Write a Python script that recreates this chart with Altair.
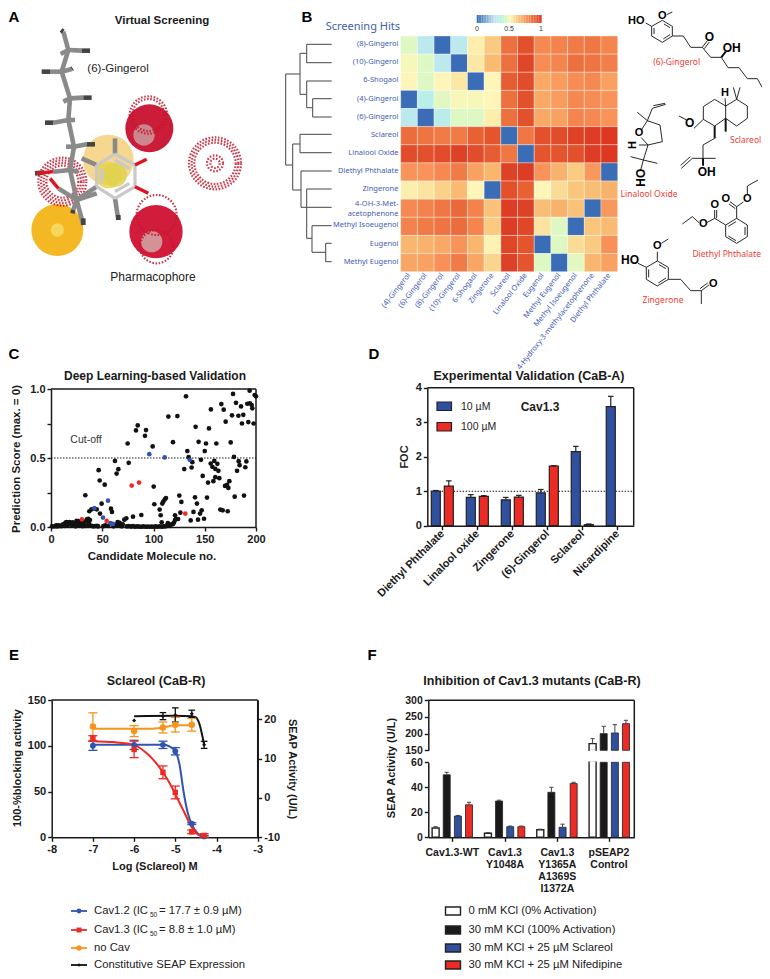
import altair as alt
import pandas as pd

W, H = 754, 963
INK = "#1a1a1a"
BLUE = "#2f4f9f"
RED = "#ee2a24"
ORANGE = "#f7941d"
LBL = "#3f5cb0"
FONT = "Liberation Sans"
MOL_X = 264

# ---------- Panel B data ----------
rows = ["(8)", "(10)", "6S", "(4)", "(6)", "Scl", "Lin", "Die", "Zin", "4OH", "MIs", "Eug", "MEu"]
cols = ["(4)-Gingerol", "(6)-Gingerol", "(8)-Gingerol", "(10)-Gingerol", "6-Shogaol", "Zingerone", "Sclareol",
        "Linalool Oxide", "Eugenol", "Methyl Eugenol", "Methyl Isoeugenol", "4-Hydroxy-3-methylacetophenone", "Diethyl Phthalate"]
matrix = [
    [.45, .30, 0, .30, .52, .62, .85, .93, .78, .80, .82, .83, .79],
    [.49, .45, .30, 0, .54, .66, .85, .95, .77, .79, .85, .84, .81],
    [.50, .45, .50, .54, 0, .50, .90, .94, .70, .73, .77, .78, .72],
    [0, .33, .46, .49, .49, .50, .85, .93, .70, .73, .78, .77, .75],
    [.30, 0, .32, .45, .45, .52, .85, .93, .70, .72, .79, .78, .75],
    [.86, .84, .82, .82, .89, .92, 0, .83, .93, .94, .96, .97, .98],
    [.94, .93, .94, .96, .94, .90, .83, 0, .92, .92, .93, .97, .98],
    [.75, .75, .78, .82, .72, .67, .96, .97, .75, .68, .62, .74, 0],
    [.52, .55, .60, .66, .50, 0, .93, .89, .50, .57, .63, .65, .68],
    [.78, .80, .83, .87, .80, .64, .97, .96, .65, .68, .64, 0, .74],
    [.80, .82, .84, .86, .79, .62, .97, .95, .55, .45, 0, .63, .66],
    [.67, .68, .70, .75, .67, .51, .95, .92, 0, .45, .57, .62, .76],
    [.71, .72, .76, .82, .71, .59, .96, .92, .45, 0, .46, .67, .72],
]
row_labels = [("(8)-Gingerol", 133), ("(10)-Gingerol", 187), ("6-Shogaol", 241), ("(4)-Gingerol", 296),
              ("(6)-Gingerol", 350), ("Sclareol", 405), ("Linalool Oxide", 459), ("Diethyl Phthalate", 513),
              ("Zingerone", 567), ("4-OH-3-Met-", 613), ("acetophenone", 642), ("Methyl Isoeugenol", 676),
              ("Eugenol", 731), ("Methyl Eugenol", 785)]
dendro = [
    (110, 133, 185, 133), (110, 188, 185, 188), (110, 133, 110, 188), (90, 160, 110, 160),
    (110, 243, 185, 243), (128, 296, 185, 296), (128, 351, 185, 351), (128, 296, 128, 351),
    (110, 323, 128, 323), (110, 243, 110, 323), (90, 283, 110, 283), (90, 160, 90, 283),
    (47, 222, 90, 222), (90, 403, 185, 403), (90, 458, 185, 458), (90, 403, 90, 458),
    (68, 432, 90, 432), (93, 513, 185, 513), (110, 567, 185, 567), (93, 622, 185, 622),
    (126, 677, 185, 677), (167, 730, 185, 730), (167, 785, 185, 785), (167, 730, 167, 785),
    (126, 757, 167, 757), (126, 677, 126, 757), (110, 715, 126, 715), (110, 567, 110, 715),
    (93, 513, 93, 622), (68, 570, 93, 570), (68, 432, 68, 570), (47, 495, 68, 495), (47, 222, 47, 495),
]
bonds = [
    # (6)-gingerol
    (1195, 61, 1225, 79), (1225, 79, 1225, 108), (1225, 108, 1195, 127), (1195, 127, 1163, 108), (1163, 108, 1163, 79),
    (1163, 79, 1195, 61), (1200, 72, 1218, 83), (1218, 104, 1198, 117), (1170, 102, 1170, 84),
    (1145, 69, 1163, 79), (1208, 44, 1225, 36), (1225, 108, 1258, 108), (1258, 108, 1280, 142),
    (1280, 142, 1315, 142), (1315, 142, 1340, 172), (1340, 172, 1372, 172), (1372, 172, 1392, 203), (1392, 203, 1425, 203),
    (1425, 203, 1450, 236), (1450, 236, 1480, 236), (1480, 236, 1498, 268), (1315, 142, 1330, 122), (1321, 146, 1336, 126),
    # sclareol
    (1318, 320, 1352, 298), (1352, 298, 1385, 318), (1385, 318, 1385, 355), (1385, 355, 1352, 378), (1352, 378, 1318, 358),
    (1318, 358, 1318, 320), (1385, 318, 1418, 298), (1418, 298, 1450, 318), (1450, 318, 1450, 355), (1450, 355, 1418, 378),
    (1418, 378, 1385, 355), (1385, 318, 1383, 295), (1418, 298, 1408, 262), (1418, 298, 1428, 262), (1245, 348, 1268, 360),
    (1318, 358, 1290, 385), (1352, 415, 1317, 435), (1317, 435, 1317, 475), (1317, 475, 1285, 475), (1285, 475, 1252, 505),
    (1279, 470, 1250, 496), (1317, 475, 1355, 475),
    # linalool oxide
    (1132, 390, 1150, 362), (1150, 362, 1188, 375), (1188, 375, 1195, 425), (1195, 425, 1152, 435), (1152, 435, 1132, 413),
    (1150, 362, 1165, 325), (1165, 325, 1205, 313), (1168, 317, 1203, 310), (1150, 362, 1120, 337), (1125, 435, 1152, 435),
    (1152, 435, 1138, 480), (1138, 480, 1180, 490), (1138, 480, 1100, 470), (1138, 480, 1130, 510),
    # diethyl phthalate
    (1418, 655, 1450, 675), (1450, 675, 1450, 710), (1450, 710, 1418, 730), (1418, 730, 1385, 710), (1385, 710, 1385, 675),
    (1385, 675, 1418, 655), (1443, 681, 1443, 705), (1416, 722, 1393, 708), (1393, 679, 1416, 665), (1418, 655, 1418, 620),
    (1418, 620, 1398, 605), (1414, 626, 1395, 612), (1418, 620, 1438, 606), (1450, 582, 1450, 558), (1450, 558, 1482, 540),
    (1385, 675, 1352, 655), (1352, 655, 1352, 630), (1358, 655, 1358, 630), (1352, 655, 1328, 668), (1305, 668, 1285, 650), (1285, 650, 1255, 672),
    # zingerone
    (1180, 783, 1213, 802), (1213, 802, 1213, 838), (1213, 838, 1180, 858), (1180, 858, 1147, 838), (1147, 838, 1147, 802),
    (1147, 802, 1180, 783), (1185, 794, 1206, 806), (1206, 834, 1183, 849), (1154, 832, 1154, 808), (1122, 790, 1147, 802),
    (1180, 783, 1180, 755), (1192, 730, 1213, 717), (1213, 838, 1250, 838), (1250, 838, 1280, 872), (1280, 872, 1312, 872),
    (1312, 872, 1335, 855), (1308, 866, 1331, 849), (1312, 872, 1312, 912),
]
wedges = [(1372, 172, 1385, 155), (1385, 355, 1385, 395), (1352, 378, 1352, 415), (1317, 475, 1317, 497)]
atoms = [("HO", 1117, 63, 11), ("O", 1195, 48, 11), ("O", 1336, 110, 12), ("OH", 1403, 143, 12), ("H", 1383, 280, 11),
         ("O", 1277, 368, 12), ("OH", 1328, 515, 12), ("O", 1125, 400, 11), ("O", 1385, 598, 11), ("O", 1450, 598, 11),
         ("O", 1352, 615, 11), ("O", 1318, 672, 11), ("HO", 1098, 780, 12), ("O", 1180, 738, 11), ("O", 1348, 853, 11)]
atoms_rot = [("H", 1108, 435, 11), ("HO", 1130, 533, 12)]
names_red = [("(6)-Gingerol", 1238, 186), ("Sclareol", 1445, 420), ("Linalool Oxide", 1155, 582),
             ("Diethyl Phthalate", 1388, 762), ("Zingerone", 1197, 900)]

# ---------- Panel A data (structure seen in the picture, 3x crop units) ----------
sticks = [(190, 95, 205, 150), (205, 150, 185, 215), (185, 215, 210, 295), (210, 295, 205, 360), (205, 360, 222, 440),
          (222, 440, 210, 510), (210, 510, 230, 600), (230, 600, 220, 630), (230, 600, 250, 675), (205, 150, 245, 152),
          (205, 150, 182, 162), (185, 215, 150, 215), (185, 215, 215, 207), (210, 295, 250, 293), (210, 295, 190, 305),
          (205, 360, 160, 368), (205, 360, 225, 360), (222, 440, 260, 433), (222, 440, 198, 440), (210, 510, 160, 515),
          (210, 510, 235, 515), (230, 600, 290, 580), (175, 565, 230, 600), (345, 462, 345, 415), (345, 595, 355, 660),
          (290, 495, 245, 475), (290, 560, 230, 600)]
tips = [(245, 152, 270, 152), (150, 215, 125, 215), (250, 293, 275, 293), (160, 368, 135, 368), (260, 433, 285, 433),
        (190, 95, 183, 90), (215, 207, 218, 205), (220, 630, 217, 640), (250, 655, 250, 675), (130, 518, 105, 520), (355, 645, 355, 660)]
red_tips = [(160, 515, 110, 520), (405, 495, 440, 478), (405, 560, 445, 580), (150, 535, 175, 565)]
ring = [(345, 462, 405, 495), (405, 495, 405, 560), (405, 560, 345, 595), (345, 595, 290, 560), (290, 560, 290, 495),
        (290, 495, 345, 462), (345, 480, 388, 505), (388, 550, 345, 575), (305, 550, 305, 505)]
solid_balls = [(325, 480, 76, "#f6d58a"), (172, 690, 78, "#f2b417"), (448, 385, 72, "#c8102e"), (468, 695, 80, "#d01030")]
pale_balls = [(325, 525, 40, "#e8d24a"), (172, 690, 20, "#f7dd6a"), (432, 405, 32, "#c9a3a3"), (455, 725, 32, "#d3b0b0"), (345, 525, 36, "#dfd24d")]
mesh_balls = [(645, 490, 78), (645, 490, 70), (645, 490, 62), (645, 490, 24), (645, 490, 14), (187, 545, 72), (187, 545, 64), (187, 545, 56), (187, 545, 48),
              (445, 345, 56), (445, 345, 48), (470, 645, 60), (470, 740, 50)]

# ---------- Panel C data ----------
c_black_x = [131.7, 114.5, 123.3, 156, 177.6, 166.2, 168.5, 176.6, 180.5, 185.4, 182.8, 187.6, 186.3, 170.4, 191.5, 193.8, 194.1, 195.8, 196.4, 198.7, 200, 192.5, 197.7, 141.1, 154.1, 84.6, 82.9, 92.7, 91.7, 99.2, 74.8, 119, 144, 151.2, 161.3, 175.3, 150, 133, 134.3, 62.4, 75.8, 137.9, 130, 137.2, 146.3, 155.8, 157.4, 159.3, 162.3, 160.3, 163.3, 178.5, 183.1, 184, 181.5, 190.6, 189.6, 46.5, 64, 65.7, 47.5, 52.4, 148, 100.2, 153.2, 158.4, 160.3, 164.2, 169.8, 171.7, 173, 174, 179.2, 188.3, 33.5, 125.2, 127.2, 140.5, 142.4, 152.2, 100.8, 112.2, 111, 109.6, 108.6, 106, 107, 108, 165.2, 167.5, 172.4, 147, 139, 145.4, 149.3, 143.4, 136.3, 126.2, 121, 124, 88.1, 80, 73.5, 71.5, 58.5, 59.5, 49.4, 42.3, 37.4, 39.5, 44.6, 47.8, 36.4, 35,
             1, 3, 5, 6, 7, 8, 10, 11, 12, 13, 14, 15, 16, 17, 18, 19, 20, 21, 22, 23, 24, 25, 26, 27, 28, 29, 31, 32, 33, 34, 35, 36, 37, 38, 39, 41, 43, 45, 46, 51, 53, 56, 61, 63, 65, 66, 67, 69, 70, 74, 76, 78, 80, 82, 84, 86, 88, 90, 92, 94, 96, 98, 100, 102, 104, 106, 108, 110, 112, 113, 114, 115, 116, 117, 118, 119, 120, 121, 122]
c_black_y = [.947, .80, .804, .852, .964, .891, .85, .809, .90, .874, .806, .813, .75, .763, .893, .988, .896, .884, .86, .956, .947, .76, .75, .726, .714, .736, .70, .702, .661, .584, .605, .615, .617, .605, .605, .613, .55, .55, .506, .479, .465, .47, .42, .431, .487, .46, .436, .479, .458, .421, .407, .508, .477, .448, .407, .475, .433, .412, .387, .419, .337, .307, .37, .293, .322, .332, .361, .354, .298, .305, .283, .332, .22, .228, .23, .228, .182, .215, .17, .213, .165, .21, .2, .184, .17, .126, .085, .034, .126, .121, .114, .121, .109, .097, .06, .053, .048, .104, .085, .058, .087, .075, .063, .053, .133, .109, .169, .133, .114, .128, .128, .097, .06, .045,
             .005, .004, .012, .004, .012, .008, .006, .016, .02, .008, .03, .035, .01, .03, .036, .02, .012, .034, .014, .03, .005, .045, .02, .042, .01, .03, .006, .02, .04, .008, .055, .012, .03, .05, .01, .005, .006, .008, .004, .006, .012, .008, .005, .012, .035, .01, .03, .005, .02, .004, .006, .003, .006, .002, .004, .003, .002, .004, .002, .003, .002, .003, .002, .004, .002, .005, .002, .004, .005, .01, .028, .012, .008, .018, .02, .022, .032, .05, .06]
c_blue_x = [95.9, 110.9, 135.3, 55.6, 42.3, 50.7, 57.9, 60.5]
c_blue_y = [.528, .504, .487, .191, .136, .068, .029, .022]
c_red_x = [78.7, 85.9, 30.2, 54.3, 131]
c_red_y = [.30, .322, .056, .044, .097]

# ---------- Panel D data ----------
d_names = ["Diethyl Phthalate", "Linalool oxide", "Zingerone", "(6)-Gingerol", "Sclareol", "Nicardipine"]
d_10 = [1.0, .82, .75, .95, 2.15, 3.45]
d_10_top = [1.02, .90, .82, 1.05, 2.30, 3.75]
d_100 = [1.15, .85, .83, 1.73, .03, 0]
d_100_top = [1.30, .87, .88, 1.74, .05, 0]

# ---------- Panel E data ----------
e_dose = [-7, -6, -5.3, -5, -4.6, -4.3]
e_12 = [100, 101, 101, 94, 15, 1]
e_12_err = [5, 5, 4, 4, 1, 1]
e_13 = [108, 96, 71, 49, 6, 2]
e_13_err = [3, 9, 7, 7, 2, 2]
e_no_dose = [-7, -6, -5.3, -5, -4.6]
e_no = [121, 116, 120, 123, 123]
e_no_err = [15, 6, 6, 8, 7]
e_con_dose = [-6, -5.3, -5, -4.6, -4.3]
e_con = [19.7, 20.8, 21.1, 21.4, 13.5]
e_con_err = [0, .9, 1.8, .9, .9]
fit12_x = [-7, -6, -5.3, -5.15, -5, -4.9, -4.8, -4.7, -4.6, -4.45, -4.3]
fit12_y = [101, 101, 101, 99.5, 94, 80, 50, 27, 14, 4, 1]
fit13_x = [-7, -6.5, -6, -5.7, -5.5, -5.3, -5.1, -5, -4.8, -4.6, -4.45, -4.3]
fit13_y = [105, 104, 101, 92, 83, 71, 56, 47, 29, 11, 3, 1]
fitno_x = [-7, -6, -5.6, -5.3, -5, -4.6]
fitno_y = [118.5, 118.5, 118.5, 120, 122.5, 122.5]
fitcon_x = [-6, -5, -4.6, -4.5, -4.42, -4.3]
fitcon_y = [20.8, 20.9, 20.8, 20.5, 19, 13.5]

# ---------- Panel F data ----------
f_groups = ["Cav1.3-WT", "Cav1.3\nY1048A", "Cav1.3\nY1365A\nA1369S\nI1372A", "pSEAP2\nControl"]
f_vals = [[7.5, 50, 17, 26], [3.2, 29, 8.5, 8.5], [6, 36, 8, 43], [170, 200, 202, 230]]
f_tops = [[8.5, 52, 17.5, 28], [3.7, 29.7, 9, 9], [6.5, 40, 10.5, 44], [185, 222, 227, 240]]
f_fill = ["white", "#1a1a1a", BLUE, RED]
f_legend = ["0  mM KCl  (0% Activation)", "30 mM KCl (100% Activation)", "30 mM KCl + 25 µM Sclareol", "30 mM KCl + 25 µM Nifedipine"]
e_legend_y = [911, 930, 948, 965]

# ---------- helpers ----------
PX = alt.Scale(domain=[8, 8 + W], range=[0, W], nice=False, zero=False)
PY = alt.Scale(domain=[8, 8 + H], range=[0, H], nice=False, zero=False)
layers = []


def qs(dom, a, b):
    return alt.Scale(domain=dom, range=[a - 8, b - 8], nice=False, zero=False)


def ax_left(x, **k):
    return alt.Axis(orient="left", offset=-(x - 8), title=None, grid=False, labelFlush=False, **k)


def ax_right(x, **k):
    return alt.Axis(orient="right", offset=(x - 8) - W, title=None, grid=False, labelFlush=False, **k)


def ax_bottom(y, **k):
    return alt.Axis(orient="bottom", offset=(y - 8) - H, title=None, grid=False, labelFlush=False, **k)


def segs(rows_, xs=PX, ys=PY, xaxis=None, yaxis=None, **mk):
    df = pd.DataFrame(rows_, columns=["x", "y", "x2", "y2"])
    layers.append(alt.Chart(df).mark_rule(**mk).encode(
        x=alt.X("x:Q", scale=xs, axis=xaxis), x2="x2:Q",
        y=alt.Y("y:Q", scale=ys, axis=yaxis), y2="y2:Q"))


def rects(rows_, xs=PX, ys=PY, **mk):
    df = pd.DataFrame(rows_, columns=["x", "y", "x2", "y2"])
    layers.append(alt.Chart(df).mark_rect(**mk).encode(
        x=alt.X("x:Q", scale=xs, axis=None), x2="x2:Q",
        y=alt.Y("y:Q", scale=ys, axis=None), y2="y2:Q"))


def label(t, x, y, size=11, bold=False, color=INK, angle=0, align="center", font=FONT, baseline="middle", **mk):
    df = pd.DataFrame({"t": [t], "x": [x], "y": [y]})
    layers.append(alt.Chart(df).mark_text(
        fontSize=size, fontWeight="bold" if bold else "normal", color=color, angle=angle, align=align,
        baseline=baseline, font=font, **mk).encode(
        x=alt.X("x:Q", scale=PX, axis=None), y=alt.Y("y:Q", scale=PY, axis=None), text="t:N"))


def pts(xv, yv, xs, ys, shape="circle", size=18, color=INK):
    df = pd.DataFrame({"x": xv, "y": yv})
    layers.append(alt.Chart(df).mark_point(shape=shape, size=size, filled=True, color=color, opacity=1).encode(
        x=alt.X("x:Q", scale=xs, axis=None), y=alt.Y("y:Q", scale=ys, axis=None)))


def curve(xv, yv, xs, ys, color, width=2, interp="monotone"):
    df = pd.DataFrame({"x": xv, "y": yv})
    layers.append(alt.Chart(df).mark_line(color=color, strokeWidth=width, interpolate=interp).encode(
        x=alt.X("x:Q", scale=xs, axis=None), y=alt.Y("y:Q", scale=ys, axis=None)))


def z(o, ox, oy):
    return (ox + o[0] / 3, oy + o[1] / 3, ox + o[2] / 3, oy + o[3] / 3)


def balls(items, filled=True, **mk):
    df = pd.DataFrame([{"x": i[0] / 3, "y": i[1] / 3, "s": (2 * i[2] / 3) ** 2, **({"c": i[3]} if filled else {})} for i in items])
    m = alt.Chart(df).mark_point(shape="circle", filled=filled, **mk)
    enc = dict(x=alt.X("x:Q", scale=PX, axis=None), y=alt.Y("y:Q", scale=PY, axis=None), size=alt.Size("s:Q", scale=None, legend=None))
    if filled:
        enc["color"] = alt.Color("c:N", scale=None, legend=None)
    layers.append(m.encode(**enc))


AX = dict(domainColor=INK, tickColor=INK, labelColor=INK, domainWidth=1.5, tickWidth=1.4, tickSize=4, labelFont=FONT,
          labelFontWeight="bold", labelFontSize=11, labelPadding=2)

# ---------- Panel letters ----------
for t, x, y in [("A", 14, 17), ("B", 307, 17), ("C", 14, 354), ("D", 374, 354), ("E", 14, 655), ("F", 372, 655)]:
    label(t, x, y, size=15, bold=True, color="#000")

# ---------- Panel A ----------
label("Virtual Screening", 162, 21, size=11.5, bold=True)
balls(solid_balls, opacity=0.95, strokeWidth=0)
balls(pale_balls, opacity=0.8, strokeWidth=0)
balls(mesh_balls, filled=False, color="#c4182d", strokeWidth=2.2, strokeDash=[1.6, 1.6], opacity=0.85)
segs([z(s, 0, 0) for s in sticks], color="#8a8a8a", strokeWidth=4.6)
segs([z(s, 0, 0) for s in tips], color="#444444", strokeWidth=4.6)
segs([z(s, 0, 0) for s in ring], color="#c9c9c9", strokeWidth=3.2)
segs([z(s, 0, 0) for s in red_tips], color="#e0141e", strokeWidth=3.4)
label("(6)-Gingerol", 118, 69, size=11.5, color="#222")
label("Pharmacophore", 153, 277, size=12, color="#222")

# ---------- Panel B ----------
cells = pd.DataFrame([{"r": r, "c": c, "v": matrix[i][j]} for i, r in enumerate(rows) for j, c in enumerate(cols)])
HEAT = alt.Scale(domain=[0, .25, .5, .75, 1], range=["#3a6db5", "#c5e0ee", "#fdf6b8", "#f9935a", "#d92c1f"])
layers.append(alt.Chart(cells).mark_rect(stroke="#ffffff", strokeWidth=0.5, strokeOpacity=0.7).encode(
    x=alt.X("c:N", sort=cols, scale=alt.Scale(domain=cols, range=[400.7 - 8, 617.7 - 8], paddingInner=0, paddingOuter=0),
            axis=ax_bottom(271.7, labelAngle=-52, labelAlign="right", labelBaseline="middle", ticks=False, domain=False,
                           labelColor=LBL, labelFont="Noto Sans", labelFontSize=7.5, labelPadding=2, labelOverlap=False, labelLimit=200)),
    y=alt.Y("r:N", sort=rows, scale=alt.Scale(domain=rows, range=[36 - 8, 271.7 - 8], paddingInner=0, paddingOuter=0), axis=None),
    color=alt.Color("v:Q", scale=HEAT, legend=None)))
bar_vals = [i / 40 for i in range(40)]
bar_df = pd.DataFrame({"a": bar_vals, "b": [v + 1 / 40 for v in bar_vals], "v": bar_vals})
layers.append(alt.Chart(bar_df).mark_rect().encode(
    x=alt.X("a:Q", scale=qs([0, 1], 476.7, 541.7), axis=None), x2="b:Q",
    y=alt.value(15 - 8), y2=alt.value(23 - 8), color=alt.Color("v:Q", scale=HEAT, legend=None)))
for t, x in [("0", 477), ("0.5", 509), ("1", 541)]:
    label(t, x, 29, size=7, color="#333")
label("Screening Hits", 400, 27, size=11, color=LBL, align="right", font="Noto Sans")
for t, y in row_labels:
    label(t, 398.5, y / 3, size=7.5, color=LBL, align="right", font="Noto Sans")
segs([z(s, 270, 0) for s in dendro], color="#555555", strokeWidth=1.1)
segs([z(s, MOL_X, 0) for s in bonds], color="#111111", strokeWidth=0.9)
segs([z(s, MOL_X, 0) for s in wedges], color="#111111", strokeWidth=2)
for t, x, y, s in atoms:
    label(t, MOL_X + x / 3, y / 3, size=s, color="#000", bold=True)
for t, x, y, s in atoms_rot:
    label(t, MOL_X + x / 3, y / 3, size=s, color="#000", bold=True, angle=270)
for t, x, y in names_red:
    label(t, MOL_X + x / 3, y / 3, size=8.5, color="#ee3b33", font="Noto Sans")

# ---------- Panel C ----------
cx = qs([0, 200], 51, 256)
cy = qs([0, 1], 527, 389)
label("Deep Learning-based Validation", 155, 376, size=12, bold=True)
label("Prediction Score (max. = 0)", 17, 459, size=11.5, bold=True, angle=270)
label("Candidate Molecule no.", 152, 557, size=11.5, bold=True)
label("Cut-off", 86, 440, size=10.5, color="#333")
segs([(51, 389, 256, 389), (256, 389, 256, 527)], color=INK, strokeWidth=1.5)
segs([(0, 0.5, 200, 0.5)], xs=cx, ys=cy,
     xaxis=ax_bottom(527, values=[0, 50, 100, 150, 200], **AX),
     yaxis=ax_left(51, values=[0, .25, .5, .75, 1], labelExpr="datum.value==0.25||datum.value==0.75?'':format(datum.value,'.1f')", **AX),
     color=INK, strokeWidth=1.1, strokeDash=[1.5, 1.5])
pts(c_black_x, c_black_y, cx, cy, size=22, color="#111111")
pts(c_blue_x, c_blue_y, cx, cy, size=22, color="#2f55b0")
pts(c_red_x, c_red_y, cx, cy, size=22, color="#ee2a24")

# ---------- Panel D ----------
dx = qs([-.429, 5.469], 427.3, 633.7)
dy = qs([0, 4], 525.7, 387.7)
label("Experimental Validation (CaB-A)", 529, 376, size=12.5, bold=True)
label("FOC", 405, 457, size=11, bold=True, angle=270)
label("Cav1.3", 540, 407, size=12, bold=True)
segs([(427.3, 387.7, 633.7, 387.7), (633.7, 387.7, 633.7, 525.7)], color=INK, strokeWidth=1.5)
segs([(-.02, 1, 5.469, 1)], xs=dx, ys=dy,
     xaxis=ax_bottom(525.7, values=list(range(6)), labelAngle=-45, labelAlign="right", labelBaseline="middle",
                     labelExpr="[" + ",".join(f"'{n}'" for n in d_names) + "][datum.value]", labelOverlap=False, labelLimit=200, **AX),
     yaxis=ax_left(427.3, values=[0, 1, 2, 3, 4], **AX),
     color=INK, strokeWidth=1.1, strokeDash=[1.5, 1.5])
OFF, HB = .186, .129
rects([(i - OFF - HB, 0, i - OFF + HB, v) for i, v in enumerate(d_10)], xs=dx, ys=dy, color=BLUE, stroke="#222222", strokeWidth=1.2)
rects([(i + OFF - HB, 0, i + OFF + HB, v) for i, v in enumerate(d_100) if v], xs=dx, ys=dy, color=RED, stroke="#222222", strokeWidth=1.2)
err = []
for i, (v, t) in enumerate(zip(d_10, d_10_top)):
    err += [(i - OFF, v, i - OFF, t), (i - OFF - .08, t, i - OFF + .08, t)]
for i, (v, t) in enumerate(zip(d_100, d_100_top)):
    if v:
        err += [(i + OFF, v, i + OFF, t), (i + OFF - .08, t, i + OFF + .08, t)]
segs(err, xs=dx, ys=dy, color="#222222", strokeWidth=1.2)
rects([(437, 402, 451.5, 410.5)], color=BLUE, stroke="#222222", strokeWidth=1.2)
rects([(437, 422.5, 451.5, 431)], color=RED, stroke="#222222", strokeWidth=1.2)
label("10  µM", 461, 407, size=10.5, align="left", color="#222")
label("100 µM", 461, 427, size=10.5, align="left", color="#222")

# ---------- Panel E ----------
ex = qs([-8, -3], 51.7, 257.7)
ey = qs([0, 150], 837.3, 700)
er = qs([-10, 24.9], 837.3, 700)
label("Sclareol (CaB-R)", 156, 681, size=12.5, bold=True)
label("100-%blocking activity", 18, 768, size=11, bold=True, angle=270)
label("SEAP Activity (U/L)", 292, 769, size=11, bold=True, angle=90)
label("Log (Sclareol) M", 155, 867, size=11, bold=True)
segs([(51.7, 700, 257.7, 700)], color=INK, strokeWidth=1.5)
curve(fitno_x, fitno_y, ex, ey, ORANGE)
curve(fitcon_x, fitcon_y, ex, er, "#111111")
curve(fit12_x, fit12_y, ex, ey, "#2f55b0")
curve(fit13_x, fit13_y, ex, ey, RED)


def errbars(xv, yv, ev, xs, ys, color, cap=.11):
    rows_ = []
    for a, b, c in zip(xv, yv, ev):
        if c:
            rows_ += [(a, b - c, a, b + c), (a - cap, b + c, a + cap, b + c), (a - cap, b - c, a + cap, b - c)]
    segs(rows_, xs=xs, ys=ys, color=color, strokeWidth=1.3)


errbars(e_no_dose, e_no, e_no_err, ex, ey, ORANGE)
errbars(e_dose, e_12, e_12_err, ex, ey, "#2f55b0")
errbars(e_dose, e_13, e_13_err, ex, ey, RED)
errbars(e_con_dose, e_con, e_con_err, ex, er, "#111111", cap=.08)
pts(e_no_dose, e_no, ex, ey, size=42, color=ORANGE)
pts(e_dose, e_12, ex, ey, size=34, color="#2f55b0")
pts(e_dose, e_13, ex, ey, shape="square", size=30, color=RED)
pts(e_con_dose, e_con, ex, er, shape="diamond", size=16, color="#111111")
segs([(-8, 0, -3, 0)], xs=ex, ys=ey,
     xaxis=ax_bottom(837.3, values=[-8, -7, -6, -5, -4, -3], labelExpr="''+datum.value", **AX),
     yaxis=ax_left(51.7, values=[0, 50, 100, 150], **AX), color=INK, strokeWidth=0.1)
segs([(-3, -10, -3, 24.9)], xs=ex, ys=er,
     yaxis=ax_right(257.7, values=[-10, 0, 10, 20], labelExpr="''+datum.value", **AX), color=INK, strokeWidth=1.5)
leg_colors = ["#2f55b0", RED, ORANGE, "#111111"]
leg_shape = ["circle", "square", "circle", "diamond"]
leg_size = [24, 24, 28, 12]
for c, y, sh, sz in zip(leg_colors, e_legend_y, leg_shape, leg_size):
    segs([(71, y, 87, y)], color=c, strokeWidth=1.8)
    pts([79], [y], PX, PY, shape=sh, size=sz, color=c)
for t, y, rest in [("Cav1.2 (IC", e_legend_y[0], " = 17.7 ± 0.9 µM)"), ("Cav1.3 (IC", e_legend_y[1], " = 8.8 ± 1.0 µM)")]:
    label(t, 94, y, size=11.3, align="left", color="#222")
    label("50", 150, y + 4, size=6.5, align="left", color="#222")
    label(rest, 159, y, size=11.3, align="left", color="#222")
label("no Cav", 94, e_legend_y[2], size=11.3, align="left", color="#222")
label("Constitutive SEAP Expression", 94, e_legend_y[3], size=11.3, align="left", color="#222")

# ---------- Panel F ----------
fx = qs([-.459, 3.478], 428.3, 634.3)
fl = qs([0, 60], 837.3, 762.3)
fu = qs([150, 300], 750.3, 700.3)
label("Inhibition of Cav1.3 mutants (CaB-R)", 532, 681, size=12.5, bold=True)
label("SEAP Activity (U/L)", 392, 768, size=11, bold=True, angle=270)
segs([(428.3, 700.3, 634.3, 700.3), (634.3, 700.3, 634.3, 837.3)], color=INK, strokeWidth=1.5)
F_OFF = [-.319, -.107, .107, .319]
F_HB = .067
AXF = dict(AX, labelFontSize=10.5)
for k in range(4):
    st = "#222222"
    low = [(i + F_OFF[k] - F_HB, 0, i + F_OFF[k] + F_HB, min(f_vals[i][k], 60)) for i in range(4)]
    rects(low, xs=fx, ys=fl, color=f_fill[k], stroke=st, strokeWidth=1.4 if k == 0 else 0.8)
    rects([(3 + F_OFF[k] - F_HB, 150, 3 + F_OFF[k] + F_HB, f_vals[3][k])], xs=fx, ys=fu, color=f_fill[k], stroke=st, strokeWidth=1.4 if k == 0 else 0.8)
# the broken bars are open where the axis is cut
a0 = 3 + F_OFF[0]
segs([(a0 - F_HB + .012, 60, a0 + F_HB - .012, 60)], xs=fx, ys=fl, color="#ffffff", strokeWidth=2)
segs([(a0 - F_HB + .012, 150, a0 + F_HB - .012, 150)], xs=fx, ys=fu, color="#ffffff", strokeWidth=2)
err_l, err_u = [], []
for i in range(3):
    for k in range(4):
        a = i + F_OFF[k]
        err_l += [(a, f_vals[i][k], a, f_tops[i][k]), (a - .04, f_tops[i][k], a + .04, f_tops[i][k])]
for k in range(4):
    a = 3 + F_OFF[k]
    err_u += [(a, f_vals[3][k], a, f_tops[3][k]), (a - .04, f_tops[3][k], a + .04, f_tops[3][k])]
segs(err_l, xs=fx, ys=fl, color="#444444", strokeWidth=1)
segs(err_u, xs=fx, ys=fu, color="#444444", strokeWidth=1)
segs([(-.459, 0, 3.478, 0)], xs=fx, ys=fl,
     xaxis=ax_bottom(837.3, values=[0, 1, 2, 3], labels=False, **AX),
     yaxis=ax_left(428.3, values=[0, 20, 40, 60], **AXF), color=INK, strokeWidth=0.1)
segs([(-.459, 150, -.459, 150)], xs=fx, ys=fu,
     yaxis=ax_left(428.3, values=[150, 200, 250, 300], **AXF), color=INK, strokeWidth=0.1)
for g, x in zip(f_groups, [452.3, 505, 557.3, 609]):
    label(g, x, 848, size=10.5, bold=True, baseline="top", lineBreak="\n", lineHeight=12)
for t, y, c in zip(f_legend, e_legend_y, f_fill):
    rects([(445.5, y - 4, 460.5, y + 4)], color=c, stroke="#222222", strokeWidth=1.4)
    label(t, 468.5, y, size=11.3, align="left", color="#222")

chart = alt.layer(*layers).resolve_scale(x="independent", y="independent", color="independent", size="independent").properties(
    width=W, height=H, padding=0, autosize=alt.AutoSizeParams(type="none"), background="white"
).configure_view(stroke=None)

chart.save("out.html", embed_options={"renderer": "svg", "actions": False})
